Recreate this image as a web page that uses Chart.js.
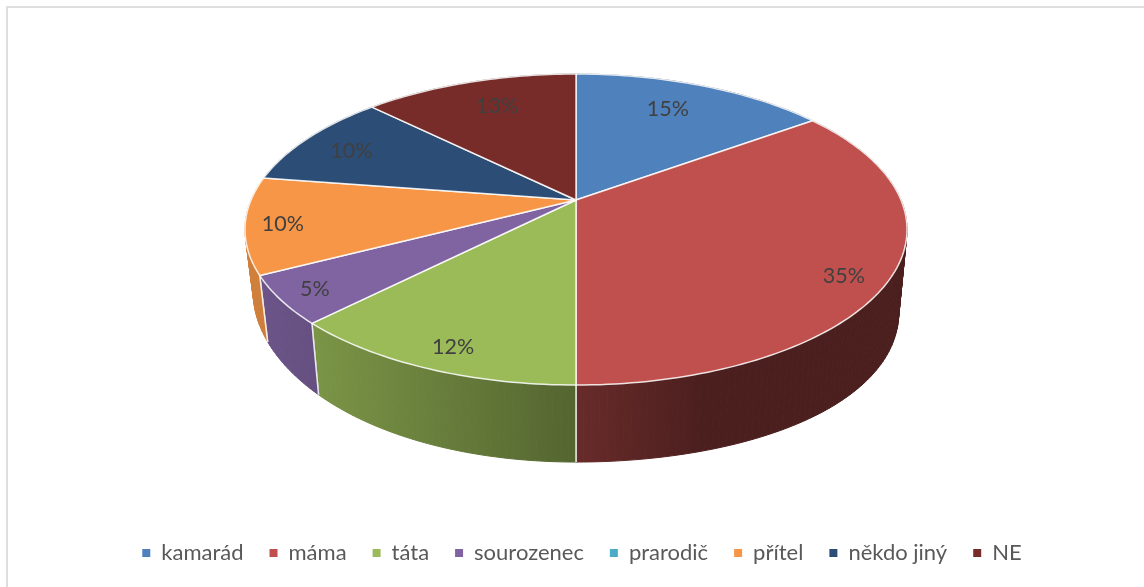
<!DOCTYPE html>
<html lang="cs">
<head>
<meta charset="utf-8">
<title>Graf</title>
<script src="https://cdn.jsdelivr.net/npm/chart.js@4/dist/chart.umd.js"></script>
<style>
  html, body { margin: 0; background: #fff; }
  #frame { position: absolute; left: 6px; top: 6px; right: 0; bottom: 0; border-left: 2px solid #dedede; border-top: 2px solid #dedede; }
  #wrap { position: absolute; left: 0; top: 0; width: 1144px; height: 587px; }
</style>
</head>
<body>
<div id="frame"></div>
<div id="wrap"><canvas id="chart"></canvas></div>
<script>
const categories = ['kamarád', 'máma', 'táta', 'sourozenec', 'prarodič', 'přítel', 'někdo jiný', 'NE'];
const shares = [15, 35, 12.4, 5, 0, 10, 10, 12.6];
const colors = ['#4F81BD', '#C0504D', '#9BBB59', '#8064A2', '#4BACC6', '#F79646', '#2C4D75', '#772C2A'];

// posun popisku od bodu na 0.8 polomeru
const labelNudge = [[-12, 3], [19, 18], [-8, 18], [-31, 11], [0, 0], [-30, 4], [-7, 1], [9, 3]];

// perspektiva koláče: kružnice -> elipsa se středem mimo střed elipsy
const view = { cx: 576, cy: 229.5, a: 325, b: 155.5, c: -29.5, k: -0.19 };
const depth = { base: 70, grow: 0.045, narrow: 0.975 };

function project(X, Y) {
  const d = 1 + view.k * Y;
  return { x: view.cx + view.a * X / d, y: view.cy + (view.b * Y + view.c) / d };
}

function lower(p) {
  const dx = (p.x - view.cx) / 320;
  // spodní hrana je vpravo níž a vlevo o něco výš
  const tilt = dx > 0 ? 12 * dx * dx : -6 * dx * dx * dx * dx;
  return {
    x: view.cx + (p.x - view.cx) * depth.narrow,
    y: p.y + depth.base + depth.grow * (p.y - view.cy) + tilt
  };
}

function rim(start, end) {
  const pts = [];
  const steps = Math.max(2, Math.ceil((end - start) / 0.02));
  for (let i = 0; i <= steps; i++) {
    const t = start + (end - start) * i / steps;
    pts.push(project(Math.cos(t), Math.sin(t)));
  }
  return pts;
}

// boční stěna je zleva světlejší, doprava tmavne
function wallGradient(ctx, color) {
  const g = ctx.createLinearGradient(245, 0, 907, 0);
  const n = parseInt(color.slice(1), 16);
  const stops = [[0, 0.85], [0.11, 0.79], [0.5, 0.54], [0.69, 0.39], [1, 0.39]];
  stops.forEach(([pos, f]) => {
    g.addColorStop(pos, `rgb(${(n >> 16) * f}, ${((n >> 8) & 255) * f}, ${(n & 255) * f})`);
  });
  return g;
}

const pie3d = {
  id: 'pie3d',
  beforeDatasetDraw(chart, args) {
    const ctx = chart.ctx;
    const arcs = chart.getDatasetMeta(args.index).data;
    ctx.save();
    ctx.lineJoin = 'round';

    arcs.forEach((arc, i) => {
      if (arc.endAngle - arc.startAngle <= 0) return;
      const top = rim(arc.startAngle, arc.endAngle);
      const bottom = top.map(lower);
      const shade = wallGradient(ctx, colors[i]);
      ctx.fillStyle = shade;
      ctx.strokeStyle = shade;
      ctx.lineWidth = 1;
      for (let j = 0; j < top.length - 1; j++) {
        ctx.beginPath();
        ctx.moveTo(top[j].x, top[j].y);
        ctx.lineTo(top[j + 1].x, top[j + 1].y);
        ctx.lineTo(bottom[j + 1].x, bottom[j + 1].y);
        ctx.lineTo(bottom[j].x, bottom[j].y);
        ctx.closePath();
        ctx.fill();
        ctx.stroke();
      }
      // bílé hrany mezi výsečemi
      ctx.strokeStyle = 'rgba(255,255,255,0.85)';
      ctx.lineWidth = 1.5;
      [0, top.length - 1].forEach(j => {
        ctx.beginPath();
        ctx.moveTo(top[j].x, top[j].y);
        ctx.lineTo(bottom[j].x, bottom[j].y);
        ctx.stroke();
      });
    });

    ctx.strokeStyle = 'rgba(255,255,255,0.85)';
    ctx.lineWidth = 1.5;
    arcs.forEach((arc, i) => {
      if (arc.endAngle - arc.startAngle <= 0) return;
      const apex = project(0, 0);
      ctx.beginPath();
      ctx.moveTo(apex.x, apex.y);
      rim(arc.startAngle, arc.endAngle).forEach(p => ctx.lineTo(p.x, p.y));
      ctx.closePath();
      ctx.fillStyle = colors[i];
      ctx.fill();
      ctx.stroke();
    });
    ctx.restore();
    return false;
  },
  afterDatasetsDraw(chart) {
    const ctx = chart.ctx;
    const arcs = chart.getDatasetMeta(0).data;
    ctx.save();
    ctx.font = '21.5px Lato';
    ctx.fillStyle = '#404040';
    ctx.textAlign = 'center';
    ctx.textBaseline = 'middle';
    arcs.forEach((arc, i) => {
      if (!shares[i]) return;
      const mid = (arc.startAngle + arc.endAngle) / 2;
      const p = project(0.8 * Math.cos(mid), 0.8 * Math.sin(mid));
      ctx.fillText(Math.round(shares[i]) + '%', p.x + labelNudge[i][0], p.y + labelNudge[i][1]);
    });
    ctx.restore();
  }
};

new Chart(document.getElementById('chart'), {
  type: 'pie',
  data: {
    labels: categories,
    datasets: [{ data: shares, backgroundColor: colors, borderWidth: 0 }]
  },
  options: {
    responsive: true,
    maintainAspectRatio: false,
    animation: false,
    layout: { padding: { left: 20, bottom: 13 } },
    plugins: {
      tooltip: { enabled: false },
      legend: {
        position: 'bottom',
        labels: {
          boxWidth: 8,
          boxHeight: 8,
          padding: 26,
          color: '#595959',
          font: { family: 'Lato', size: 22 }
        }
      }
    }
  },
  plugins: [pie3d]
});
</script>
</body>
</html>
